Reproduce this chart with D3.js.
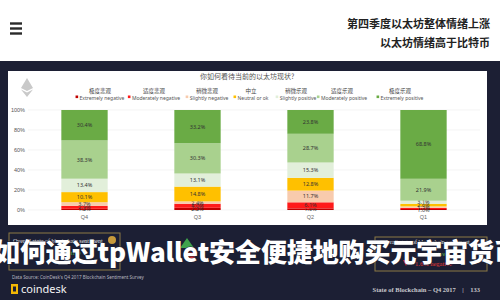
<!DOCTYPE html>
<html>
<head>
<meta charset="utf-8">
<script src="https://cdn.jsdelivr.net/npm/d3@7"></script>
<style>
  html, body { margin: 0; padding: 0; background: #fff; }
  svg { display: block; font-family: "Noto Sans", "Noto Sans CJK SC", sans-serif; }
</style>
</head>
<body>
<div id="chart"></div>
<script>
// Quarters shown left to right
var quarters = ["Q4", "Q3", "Q2", "Q1"];

// Sentiment shares per quarter (percent), bottom of the stack first
var extremelyNegative = [1.2, 2.2, 1.6, 1.0];
var moderatelyNegative = [2.9, 4.0, 6.1, 1.1];
var slightlyNegative = [3.7, 2.4, 11.7, 1.5];
var neutralOk = [10.1, 14.8, 12.8, 2.6];
var slightlyPositive = [13.4, 13.1, 15.3, 3.1];
var moderatelyPositive = [38.3, 30.3, 28.7, 21.9];
var extremelyPositive = [30.4, 33.2, 23.8, 68.8];

// Legend labels (Chinese / English)
var seriesKeys = ["extNeg", "modNeg", "slNeg", "neutral", "slPos", "modPos", "extPos"];
var seriesCn = ["极度悲观", "适度悲观", "稍微悲观", "中立", "稍微乐观", "适度乐观", "极度乐观"];
var seriesEn = ["Extremely negative", "Moderately negative", "Slightly negative", "Neutral or ok",
    "Slightly positive", "Moderately positive", "Extremely positive"];
var seriesColors = ["#c00000", "#ff1a1a", "#f8cbad", "#ffc000", "#e2efda", "#a9d18e", "#6aab45"];

var yTicks = [0, 20, 40, 60, 80, 100];

var titleLines = ["第四季度以太坊整体情绪上涨", "以太坊情绪高于比特币"];
var cardTitle = "你如何看待当前的以太坊现状?";
var overlayText = "如何通过tpWallet安全便捷地购买元宇宙货币";

// Build the table that d3.stack wants
var allSeries = [extremelyNegative, moderatelyNegative, slightlyNegative, neutralOk,
    slightlyPositive, moderatelyPositive, extremelyPositive];
var table = quarters.map(function (q, i) {
    var row = { quarter: q };
    seriesKeys.forEach(function (k, j) { row[k] = allSeries[j][i]; });
    return row;
});

var width = 500, height = 300;

var svg = d3.select("#chart").append("svg")
    .attr("width", width)
    .attr("height", height);

// ****************** page background ***************************

svg.append("rect").attr("width", width).attr("height", height).attr("fill", "#fff");

// hamburger icon
[23.5, 28.5, 33.5].forEach(function (y) {
    svg.append("rect").attr("x", 10).attr("y", y - 1.2).attr("width", 12).attr("height", 2.4)
        .attr("fill", "#2a2a2a");
});

// headline, right aligned
svg.selectAll("text.headline")
    .data(titleLines)
    .enter().append("text")
    .attr("class", "headline")
    .attr("x", 490)
    .attr("y", function (d, i) { return 28 + i * 19; })
    .attr("text-anchor", "end")
    .attr("font-family", "Noto Sans CJK SC")
    .attr("font-weight", 700)
    .attr("font-size", 11)
    .attr("fill", "#222")
    .text(function (d) { return d; });

// dark slide panel
svg.append("rect").attr("x", 0).attr("y", 61).attr("width", width).attr("height", height - 61)
    .attr("fill", "#1c1f34");

// white card
svg.append("rect").attr("x", 8).attr("y", 71).attr("width", 479).attr("height", 154)
    .attr("fill", "#fff");

// ethereum logo (faint)
var eth = svg.append("g").attr("transform", "translate(27,87)").attr("fill", "#c9c9c9");
eth.append("path").attr("d", "M0,-9 L6,1 L0,4 L-6,1 Z");
eth.append("path").attr("d", "M0,5.5 L6,2.5 L0,10 L-6,2.5 Z");

svg.append("text")
    .attr("x", 200).attr("y", 78.5)
    .attr("font-family", "Noto Sans CJK SC")
    .attr("font-size", 7)
    .attr("fill", "#555")
    .text(cardTitle);

// ****************** legend ***************************

var legendCenters = [100, 154, 207, 251, 296, 342, 400];
var legend = svg.selectAll("g.legend")
    .data(seriesKeys)
    .enter().append("g")
    .attr("class", "legend")
    .attr("transform", function (d, i) { return "translate(" + legendCenters[i] + ",0)"; });

legend.append("text")
    .attr("y", 93)
    .attr("text-anchor", "middle")
    .attr("font-family", "Noto Sans CJK SC")
    .attr("font-size", 5.5)
    .attr("fill", "#444")
    .text(function (d, i) { return seriesCn[i]; });

legend.append("text")
    .attr("y", 99.5)
    .attr("x", 2)
    .attr("text-anchor", "middle")
    .attr("font-size", 5)
    .attr("fill", "#555")
    .text(function (d, i) { return seriesEn[i]; })
    .each(function (d, i) {
        var bb = this.getBBox();
        d3.select(this.parentNode).append("rect")
            .attr("x", bb.x - 4).attr("y", 95.5).attr("width", 2.6).attr("height", 2.6)
            .attr("fill", seriesColors[i]);
    });

// ****************** chart ***************************

var x = d3.scaleBand()
    .domain(quarters)
    .range([28, 480])
    .paddingInner(0.59)
    .paddingOuter(0.295);

var y = d3.scaleLinear().domain([0, 100]).range([210, 110]);

// gridlines
svg.append("g")
    .selectAll("line")
    .data(yTicks)
    .enter().append("line")
    .attr("x1", 28).attr("x2", 480)
    .attr("y1", function (d) { return y(d); })
    .attr("y2", function (d) { return y(d); })
    .attr("stroke", "#ececec")
    .attr("stroke-width", 0.6);

var yAxis = svg.append("g")
    .attr("transform", "translate(26,0)")
    .call(d3.axisLeft(y).tickValues(yTicks).tickSize(0).tickPadding(1)
        .tickFormat(function (d) { return d + "%"; }));
yAxis.select(".domain").remove();
yAxis.selectAll("text").attr("font-size", 5.5).attr("fill", "#555");

var xAxis = svg.append("g")
    .attr("transform", "translate(0,212)")
    .call(d3.axisBottom(x).tickSize(0).tickPadding(3));
xAxis.select(".domain").remove();
xAxis.selectAll("text").attr("font-size", 5.5).attr("fill", "#666");

var stacked = d3.stack().keys(seriesKeys)(table);

var layer = svg.append("g")
    .selectAll("g")
    .data(stacked)
    .enter().append("g")
    .attr("fill", function (d, i) { return seriesColors[i]; });

layer.selectAll("rect")
    .data(function (d) { return d; })
    .enter().append("rect")
    .attr("x", function (d) { return x(d.data.quarter); })
    .attr("y", function (d) { return y(d[1]); })
    .attr("width", x.bandwidth())
    .attr("height", function (d) { return y(d[0]) - y(d[1]); });

layer.selectAll("text")
    .data(function (d) { return d; })
    .enter().append("text")
    .attr("x", function (d) { return x(d.data.quarter) + x.bandwidth() / 2; })
    .attr("y", function (d) { return (y(d[0]) + y(d[1])) / 2 + 2; })
    .attr("text-anchor", "middle")
    .attr("font-size", 5.5)
    .attr("fill", "#333")
    .text(function (d) { return (d[1] - d[0]).toFixed(1) + "%"; });

// ****************** lower slide area ***************************

function sentimentBox(x0, y0, w, h, lines) {
    var g = svg.append("g");
    g.append("rect").attr("x", x0).attr("y", y0).attr("width", w).attr("height", h)
        .attr("fill", "none").attr("stroke", "#8c7a45").attr("stroke-width", 1);
    lines.forEach(function (l) {
        g.append("text").attr("x", l[0]).attr("y", l[1])
            .attr("font-size", l[3]).attr("fill", l[2])
            .attr("font-family", "Liberation Serif")
            .text(l[4]);
    });
    return g;
}

sentimentBox(9, 233, 111, 37, [
    [13, 243, "#e8e8e8", 6, "Overall state of blockchain sentiment"],
    [60, 255, "#4caf50", 6.5, "positive"]
]);
svg.append("circle").attr("cx", 112).attr("cy", 240).attr("r", 4).attr("fill", "#c79a3b");

sentimentBox(375, 237, 112, 34, [
    [380, 244, "#e8e8e8", 6, "Overall state of blockchain sentiment"],
    [425, 256, "#4caf50", 6.5, "positive"],
    [415, 266, "#e53935", 6.5, "1.6% negative"]
]);

// arrows
svg.append("path").attr("d", "M187,238 L194,248 L180,248 Z").attr("fill", "#3fa34d");
svg.append("path").attr("d", "M186,252 L198,252 L192,262 Z").attr("fill", "#d32f2f");
svg.append("path").attr("d", "M403,260 L409,260 L406,266 Z").attr("fill", "#d32f2f");

svg.append("text")
    .attr("x", 12).attr("y", 279)
    .attr("font-size", 4.5).attr("fill", "#b8b8c0")
    .text("Data Source: CoinDesk's Q4 2017 Blockchain Sentiment Survey");

// coindesk logo
svg.append("rect").attr("x", 11).attr("y", 284).attr("width", 7).attr("height", 10).attr("fill", "#f2b705");
svg.append("rect").attr("x", 13).attr("y", 286.5).attr("width", 3).attr("height", 5).attr("fill", "#1c1f34");
svg.append("text")
    .attr("x", 21).attr("y", 293)
    .attr("font-size", 11).attr("fill", "#f4f4f4")
    .text("coindesk");

svg.append("text")
    .attr("x", 480).attr("y", 292)
    .attr("text-anchor", "end")
    .attr("font-family", "Liberation Serif")
    .attr("font-weight", 700)
    .attr("font-size", 6.5)
    .attr("fill", "#c8c8cc")
    .attr("xml:space", "preserve")
    .text("State of Blockchain – Q4 2017    |    133");

// overlaid headline
svg.append("text")
    .attr("x", -6).attr("y", 262)
    .attr("font-family", "Noto Sans CJK SC")
    .attr("font-weight", 900)
    .attr("font-size", 26)
    .attr("textLength", 526)
    .attr("lengthAdjust", "spacing")
    .attr("fill", "#fff")
    .attr("stroke", "#1c1f34")
    .attr("stroke-width", 0.8)
    .attr("paint-order", "stroke")
    .text(overlayText);
</script>
</body>
</html>
